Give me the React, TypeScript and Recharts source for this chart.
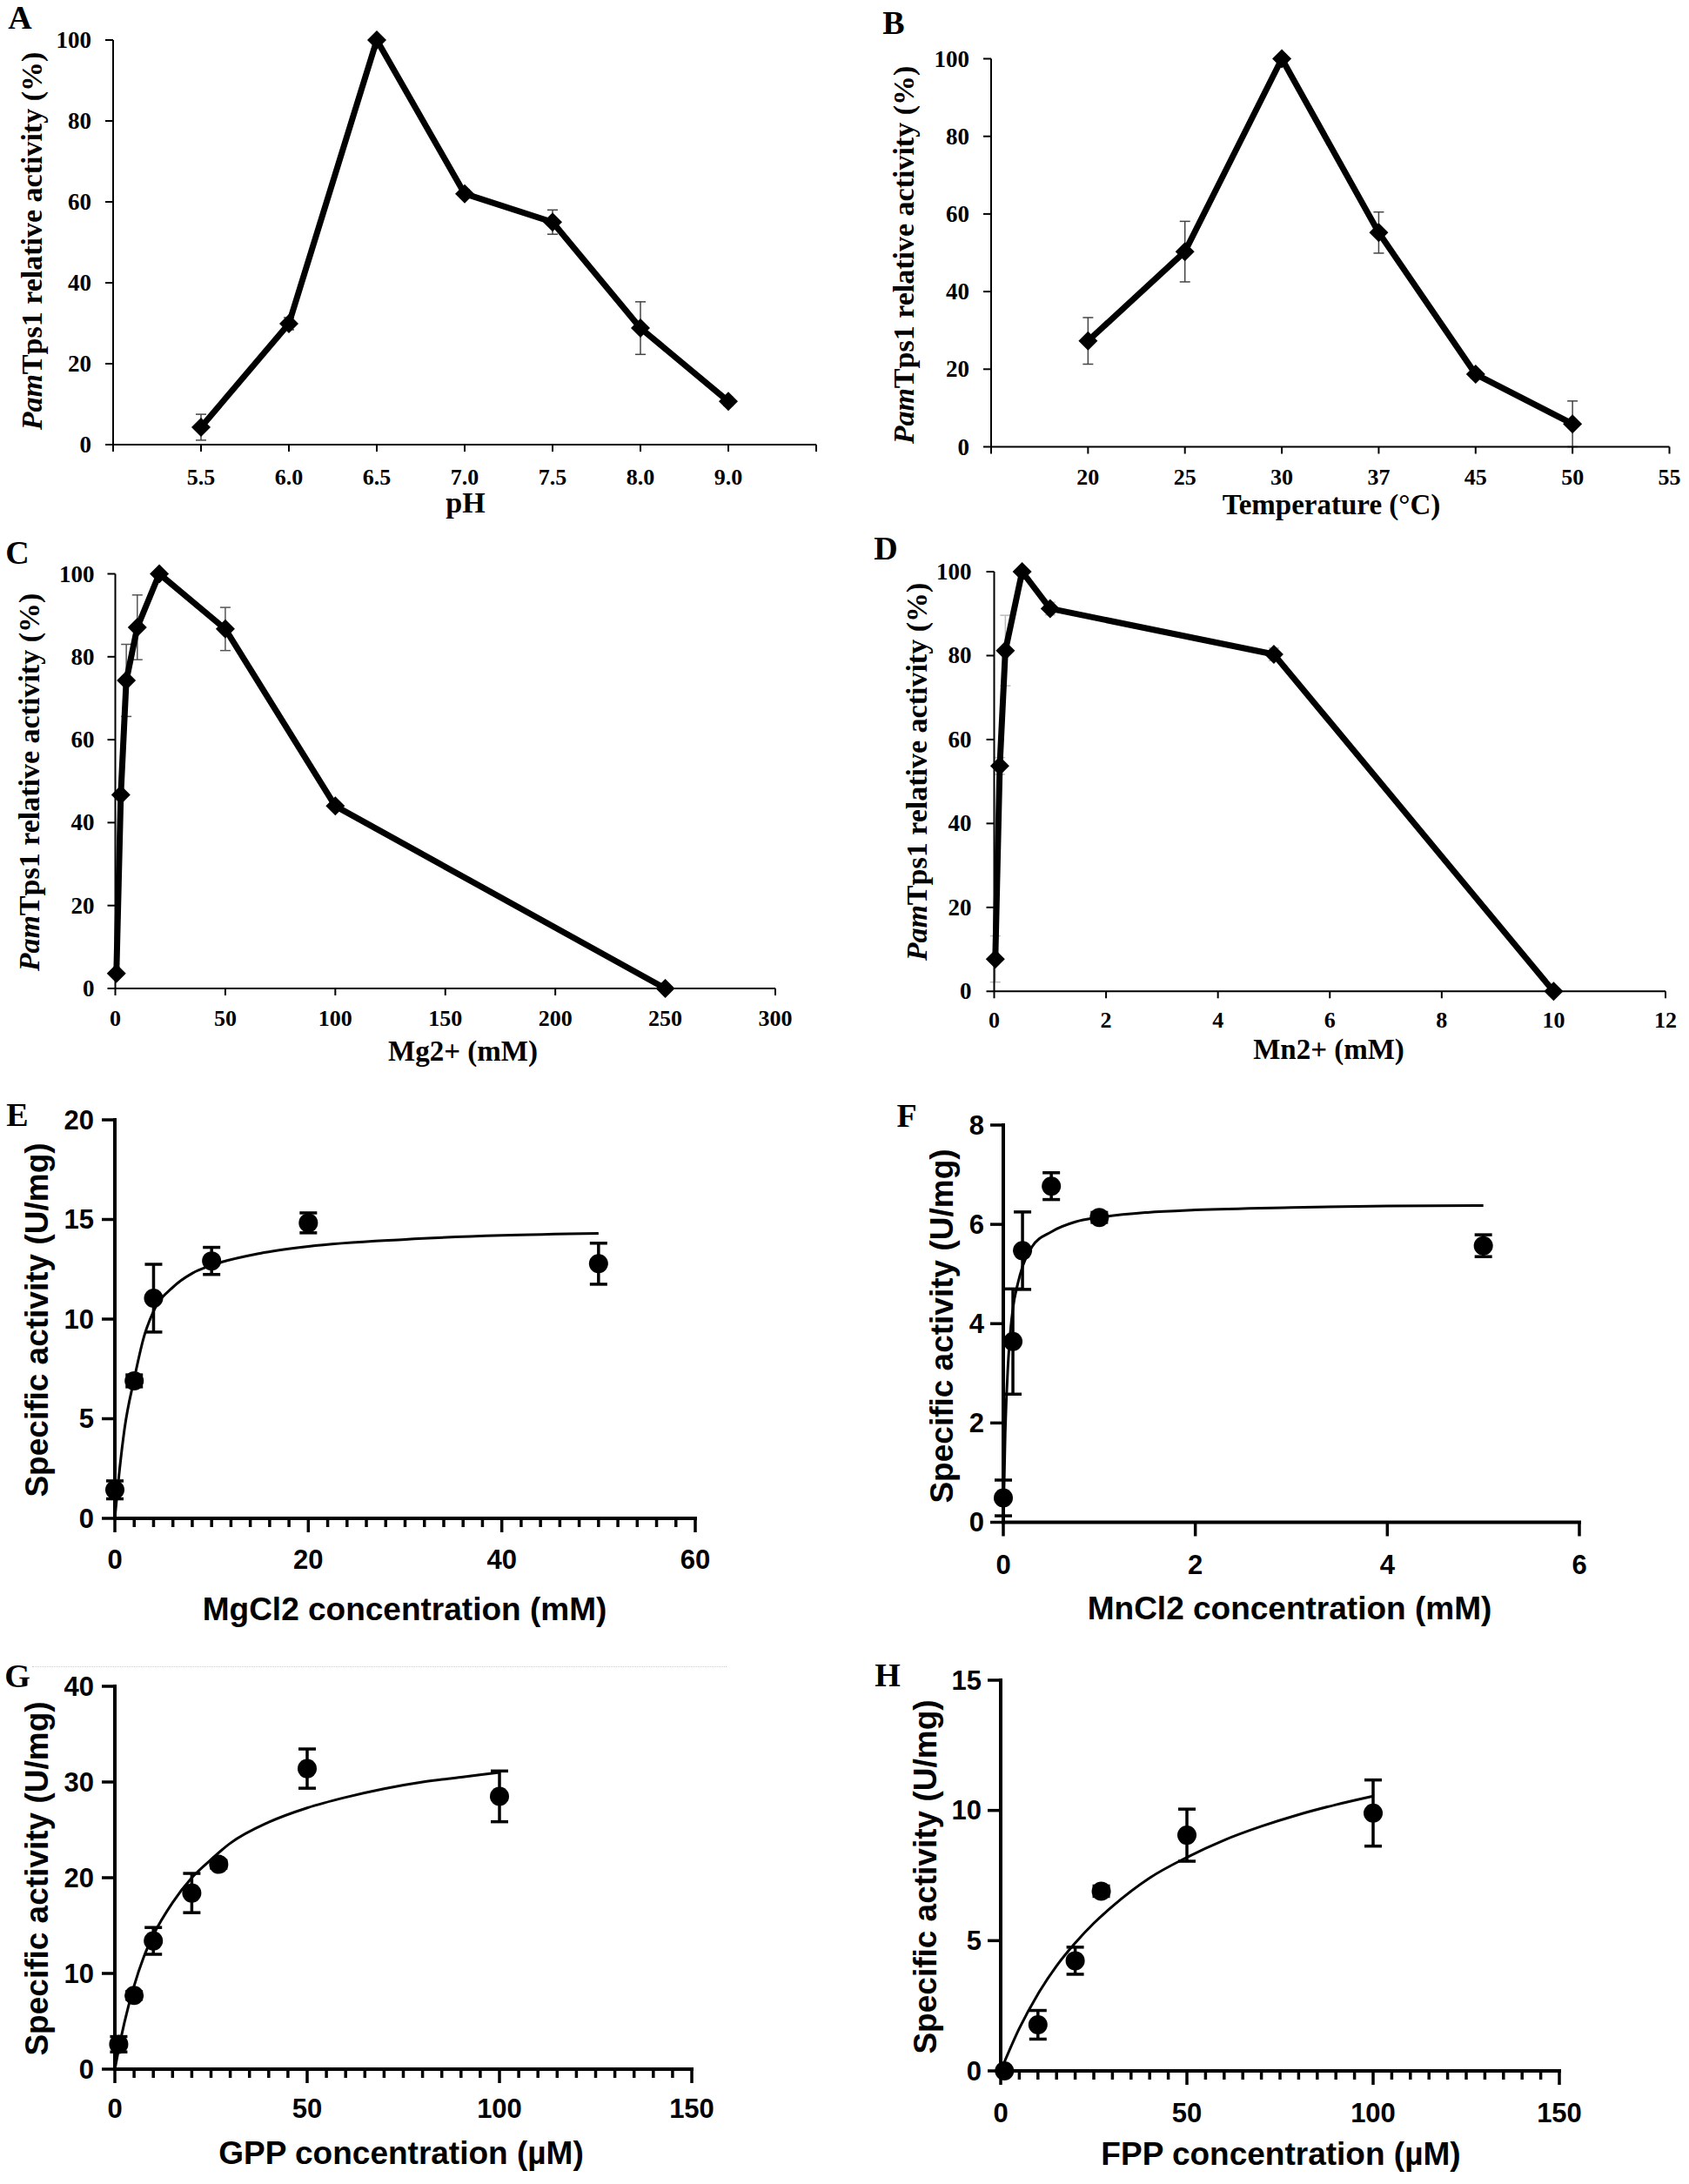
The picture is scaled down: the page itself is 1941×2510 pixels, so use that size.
import React from 'react';
import { ComposedChart, Line, Scatter, XAxis, YAxis, ErrorBar } from 'recharts';

// A: pH
const phLabels = ['5.5', '6.0', '6.5', '7.0', '7.5', '8.0', '9.0'];
const phActivity = [4.3, 29.9, 100, 62, 55, 28.8, 10.7];
const phError = [3.2, 1.5, 0, 1, 3, 6.5, 1];

// B: temperature (55 is an empty category)
const tempLabels = ['20', '25', '30', '37', '45', '50', '55'];
const tempActivity = [27.3, 50.3, 100, 55.2, 18.7, 5.9];
const tempError = [6, 7.8, 0, 5.3, 1, 5.9];

// C: Mg2+
const mgConc = [0.5, 2.5, 5, 10, 20, 50, 100, 250];
const mgActivity = [3.6, 46.7, 74.3, 87.1, 100, 86.7, 44, 0];
const mgError = [0, 0, 8.7, 7.8, 0, 5.2, 0, 0];

// D: Mn2+
const mnConc = [0.02, 0.1, 0.2, 0.5, 1, 5, 10];
const mnActivity = [7.7, 53.7, 81.2, 100, 91.2, 80.3, 0];
const mnError = [5.5, 2, 8.4, 0, 1.5, 1.5, 0];

// E: MgCl2
const mgcl2Conc = [0, 2, 4, 10, 20, 50];
const mgcl2Act = [1.43, 6.9, 11.05, 12.92, 14.83, 12.78];
const mgcl2Err = [0.45, 0.3, 1.7, 0.68, 0.5, 1.03];
const mgcl2FitX = [0, 0.5, 1, 2, 3, 4, 6, 8, 10, 15, 20, 30, 40, 50];
const mgcl2FitY = [0, 2.5, 4.5, 7.0, 9.1, 10.4, 11.6, 12.3, 12.7, 13.3, 13.65, 14.0, 14.2, 14.3];

// F: MnCl2
const mncl2Conc = [0, 0.1, 0.2, 0.5, 1, 5];
const mncl2Act = [0.49, 3.64, 5.47, 6.77, 6.14, 5.57];
const mncl2Err = [0.36, 1.06, 0.78, 0.27, 0.1, 0.22];
const mncl2FitX = [0, 0.02, 0.05, 0.1, 0.15, 0.2, 0.3, 0.5, 0.75, 1, 1.5, 2, 3, 4, 5];
const mncl2FitY = [0, 1.8, 3.2, 4.3, 4.8, 5.15, 5.55, 5.85, 6.05, 6.14, 6.24, 6.29, 6.34, 6.37, 6.38];

// G: GPP
const gppConc = [1, 5, 10, 20, 27, 50, 100];
const gppAct = [2.6, 7.7, 13.4, 18.4, 21.4, 31.4, 28.5];
const gppErr = [0.8, 0.4, 1.4, 2.05, 0.4, 2.05, 2.65];
const gppFitX = [0, 1, 2.5, 5, 7.5, 10, 15, 20, 25, 30, 40, 50, 60, 70, 80, 90, 100];
const gppFitY = [0, 2.1, 4.9, 8.7, 11.7, 14.0, 17.4, 20.0, 21.9, 23.6, 25.8, 27.3, 28.4, 29.3, 30.0, 30.5, 31.0];

// H: FPP
const fppConc = [1, 10, 20, 27, 50, 100];
const fppAct = [0, 1.77, 4.23, 6.9, 9.05, 9.9];
const fppErr = [0, 0.55, 0.52, 0.2, 1.0, 1.27];
const fppFitX = [0, 5, 10, 15, 20, 25, 30, 40, 50, 60, 70, 80, 90, 100];
const fppFitY = [0, 1.63, 2.95, 4.03, 4.91, 5.67, 6.32, 7.41, 8.2, 8.86, 9.39, 9.84, 10.22, 10.55];

// axis ticks
const pctTicks = [0, 20, 40, 60, 80, 100];
const mgTicks = [0, 50, 100, 150, 200, 250, 300];
const mnTicks = [0, 2, 4, 6, 8, 10, 12];
const eXTicks = [0, 20, 40, 60];
const eYTicks = [0, 5, 10, 15, 20];
const fXTicks = [0, 2, 4, 6];
const fYTicks = [0, 2, 4, 6, 8];
const ghXTicks = [0, 50, 100, 150];
const gYTicks = [0, 10, 20, 30, 40];
const hYTicks = [0, 5, 10, 15];

const SERIF = '"Liberation Serif", "Times New Roman", serif';
const SANS = '"Liberation Sans", Arial, sans-serif';

const range = (end: number, step: number) =>
  Array.from({ length: Math.round(end / step) + 1 }, (_, i) => i * step);

const points = (xs: number[], ys: number[], errs?: number[]) =>
  ys.map((y, i) => ({ x: xs[i], y, err: errs ? errs[i] : 0 }));

type TickStyle = {
  len: number;
  minorLen?: number;
  lw: number;
  gap: number;
  font: string;
  size: number;
  majors?: number[];
  fmt?: (v: number) => string;
};

function makeXTick(s: TickStyle) {
  return (p: any) => {
    const v = p.payload.value;
    const major = !s.majors || s.majors.includes(v);
    const label = s.fmt ? s.fmt(v) : String(v);
    return (
      <g key={`xt-${p.index}`}>
        <line x1={p.x} x2={p.x} y1={p.y} y2={p.y + (major ? s.len : s.minorLen ?? 0)} stroke="#000" strokeWidth={s.lw} />
        {major && label ? (
          <text x={p.x} y={p.y + s.gap} textAnchor="middle" dominantBaseline="central"
            fontFamily={s.font} fontSize={s.size} fontWeight="bold" fill="#000">{label}</text>
        ) : null}
      </g>
    );
  };
}

function makeYTick(s: TickStyle) {
  return (p: any) => (
    <g key={`yt-${p.index}`}>
      <line x1={p.x} x2={p.x - s.len} y1={p.y} y2={p.y} stroke="#000" strokeWidth={s.lw} />
      <text x={p.x - s.gap} y={p.y} textAnchor="end" dominantBaseline="central"
        fontFamily={s.font} fontSize={s.size} fontWeight="bold" fill="#000">{String(p.payload.value)}</text>
    </g>
  );
}

const diamond = (p: any) => {
  if (p.cx == null || p.cy == null) return <g key={`d-${p.index}`} />;
  const r = 11;
  return (
    <path key={`d-${p.index}`} fill="#000"
      d={`M${p.cx},${p.cy - r}L${p.cx + r},${p.cy}L${p.cx},${p.cy + r}L${p.cx - r},${p.cy}Z`} />
  );
};

const bigDot = (p: any) => <circle cx={p.cx} cy={p.cy} r={11} fill="#000" />;

type Box = { x: number; y: number; w: number; h: number };
type Plot = { l: number; t: number; r: number; b: number };
const Y_W = 90;
const X_H = 70;

function frame(box: Box, plot: Plot) {
  return {
    margin: {
      left: plot.l - box.x - Y_W,
      top: plot.t - box.y,
      right: box.x + box.w - plot.r,
      bottom: box.y + box.h - plot.b - X_H,
    },
  };
}

type ExcelProps = {
  box: Box;
  plot: Plot;
  data: { x: number; y: number; err: number }[];
  xDomain: [number, number];
  xTicks: number[];
  xFmt?: (v: number) => string;
  gapX: number;
  gapY: number;
  errColor: string;
};

function ExcelPanel({ box, plot, data, xDomain, xTicks, xFmt, gapX, gapY, errColor }: ExcelProps) {
  const { margin } = frame(box, plot);
  return (
    <div style={{ position: 'absolute', left: box.x, top: box.y }}>
      <ComposedChart width={box.w} height={box.h} margin={margin} data={data}>
        <XAxis type="number" dataKey="x" domain={xDomain} ticks={xTicks} interval={0} height={X_H}
          tickSize={0} tickMargin={0} tickLine={false} axisLine={{ stroke: '#000', strokeWidth: 2 }}
          tick={makeXTick({ len: 8, lw: 2, gap: gapX, font: SERIF, size: 26, fmt: xFmt })} />
        <YAxis type="number" domain={[0, 100]} ticks={pctTicks} interval={0} width={Y_W}
          tickSize={0} tickMargin={0} tickLine={false} axisLine={{ stroke: '#000', strokeWidth: 2 }}
          tick={makeYTick({ len: 9, lw: 2, gap: gapY, font: SERIF, size: 27 })} />
        <Line dataKey="y" type="linear" stroke="#000" strokeWidth={7} strokeLinejoin="round"
          dot={diamond} activeDot={false} isAnimationActive={false}>
          <ErrorBar dataKey="err" direction="y" width={6} stroke={errColor} strokeWidth={1.5} />
        </Line>
      </ComposedChart>
    </div>
  );
}

type PrismProps = {
  box: Box;
  plot: Plot;
  data: { x: number; y: number; err: number }[];
  fit: { x: number; y: number; err: number }[];
  xDomain: [number, number];
  yDomain: [number, number];
  xTicks: number[];
  xMajors: number[];
  yTicks: number[];
  gapX: number;
  gapY: number;
};

function PrismPanel({ box, plot, data, fit, xDomain, yDomain, xTicks, xMajors, yTicks, gapX, gapY }: PrismProps) {
  const { margin } = frame(box, plot);
  const axis = { stroke: '#000', strokeWidth: 4, strokeLinecap: 'square' as const };
  return (
    <div style={{ position: 'absolute', left: box.x, top: box.y }}>
      <ComposedChart width={box.w} height={box.h} margin={margin}>
        <XAxis type="number" dataKey="x" domain={xDomain} ticks={xTicks} interval={0} height={X_H}
          tickSize={0} tickMargin={0} tickLine={false} axisLine={axis}
          tick={makeXTick({ len: 16, minorLen: 10, lw: 3.5, gap: gapX, font: SANS, size: 31, majors: xMajors })} />
        <YAxis type="number" domain={yDomain} ticks={yTicks} interval={0} width={Y_W}
          tickSize={0} tickMargin={0} tickLine={false} axisLine={axis}
          tick={makeYTick({ len: 15, lw: 3.5, gap: gapY, font: SANS, size: 31 })} />
        <Line data={fit} dataKey="y" type="monotone" stroke="#000" strokeWidth={3} dot={false}
          activeDot={false} isAnimationActive={false} />
        <Scatter data={data} dataKey="y" shape={bigDot} isAnimationActive={false}>
          <ErrorBar dataKey="err" direction="y" width={10} stroke="#000" strokeWidth={3.5} />
        </Scatter>
      </ComposedChart>
    </div>
  );
}

function Letter({ x, y, t }: { x: number; y: number; t: string }) {
  return (
    <div style={{ position: 'absolute', left: x, top: y, transform: 'translate(-50%,-50%)', fontFamily: SERIF, fontWeight: 'bold', fontSize: 38, lineHeight: 1 }}>{t}</div>
  );
}

function HTitle({ x, y, font, size, children }: { x: number; y: number; font: string; size: number; children: React.ReactNode }) {
  return (
    <div style={{ position: 'absolute', left: x, top: y, transform: 'translate(-50%,-50%)', whiteSpace: 'nowrap', fontFamily: font, fontWeight: 'bold', fontSize: size, lineHeight: 1 }}>{children}</div>
  );
}

function VTitle({ x, y, font, size, children }: { x: number; y: number; font: string; size: number; children: React.ReactNode }) {
  return (
    <div style={{ position: 'absolute', left: x, top: y, transform: 'translate(-50%,-50%) rotate(-90deg)', whiteSpace: 'nowrap', fontFamily: font, fontWeight: 'bold', fontSize: size, lineHeight: 1 }}>{children}</div>
  );
}

const pamTitle = (
  <>
    <i>Pam</i>Tps1 relative activity (%)
  </>
);

export default function App() {
  const phData = phActivity.map((y, i) => ({ x: i + 1, y, err: phError[i] }));
  const tempData = tempActivity.map((y, i) => ({ x: i + 1, y, err: tempError[i] }));

  return (
    <div style={{ position: 'absolute', left: 0, top: 0, width: 1941, height: 2510, background: '#fff', overflow: 'hidden' }}>
      <ExcelPanel box={{ x: 0, y: 0, w: 970, h: 620 }} plot={{ l: 130, t: 46, r: 938, b: 511 }}
        data={phData} xDomain={[0, 8]} xTicks={range(8, 1)} xFmt={(v) => phLabels[v - 1] ?? ''}
        gapX={37} gapY={25} errColor="#444" />
      <ExcelPanel box={{ x: 970, y: 0, w: 971, h: 620 }} plot={{ l: 1139, t: 67.5, r: 1918.5, b: 513.5 }}
        data={tempData} xDomain={[0, 7]} xTicks={range(7, 1)} xFmt={(v) => tempLabels[v - 1] ?? ''}
        gapX={35} gapY={25} errColor="#444" />
      <ExcelPanel box={{ x: 0, y: 620, w: 970, h: 620 }} plot={{ l: 132.5, t: 659.5, r: 891, b: 1136 }}
        data={points(mgConc, mgActivity, mgError)} xDomain={[0, 300]} xTicks={mgTicks}
        gapX={34} gapY={24} errColor="#555" />
      <ExcelPanel box={{ x: 970, y: 620, w: 971, h: 620 }} plot={{ l: 1142.5, t: 657, r: 1914, b: 1139.3 }}
        data={points(mnConc, mnActivity, mnError)} xDomain={[0, 12]} xTicks={mnTicks}
        gapX={33} gapY={26} errColor="#bbb" />

      <PrismPanel box={{ x: 0, y: 1240, w: 970, h: 640 }} plot={{ l: 132, t: 1287, r: 799, b: 1745 }}
        data={points(mgcl2Conc, mgcl2Act, mgcl2Err)} fit={points(mgcl2FitX, mgcl2FitY)}
        xDomain={[0, 60]} yDomain={[0, 20]} xTicks={range(60, 2)} xMajors={eXTicks} yTicks={eYTicks}
        gapX={47} gapY={24} />
      <PrismPanel box={{ x: 970, y: 1240, w: 971, h: 640 }} plot={{ l: 1153, t: 1293, r: 1815, b: 1749.5 }}
        data={points(mncl2Conc, mncl2Act, mncl2Err)} fit={points(mncl2FitX, mncl2FitY)}
        xDomain={[0, 6]} yDomain={[0, 8]} xTicks={fXTicks} xMajors={fXTicks} yTicks={fYTicks}
        gapX={48.5} gapY={22} />
      <PrismPanel box={{ x: 0, y: 1880, w: 970, h: 630 }} plot={{ l: 132, t: 1938, r: 795, b: 2378 }}
        data={points(gppConc, gppAct, gppErr)} fit={points(gppFitX, gppFitY)}
        xDomain={[0, 150]} yDomain={[0, 40]} xTicks={range(150, 5)} xMajors={ghXTicks} yTicks={gYTicks}
        gapX={45} gapY={24} />
      <PrismPanel box={{ x: 970, y: 1880, w: 971, h: 630 }} plot={{ l: 1150, t: 1931, r: 1792, b: 2380 }}
        data={points(fppConc, fppAct, fppErr)} fit={points(fppFitX, fppFitY)}
        xDomain={[0, 150]} yDomain={[0, 15]} xTicks={range(150, 5)} xMajors={ghXTicks} yTicks={hYTicks}
        gapX={48} gapY={22} />

      <div style={{ position: 'absolute', left: 37, top: 1915, width: 798, borderTop: '1px dotted #ccc' }} />

      <Letter x={23} y={20} t="A" />
      <Letter x={1027} y={26} t="B" />
      <Letter x={20} y={635} t="C" />
      <Letter x={1018} y={630} t="D" />
      <Letter x={20} y={1281} t="E" />
      <Letter x={1042} y={1282} t="F" />
      <Letter x={20} y={1926} t="G" />
      <Letter x={1020} y={1925} t="H" />

      <VTitle x={37} y={277} font={SERIF} size={34}>{pamTitle}</VTitle>
      <VTitle x={1039} y={293} font={SERIF} size={34}>{pamTitle}</VTitle>
      <VTitle x={34} y={899} font={SERIF} size={34}>{pamTitle}</VTitle>
      <VTitle x={1054} y={887} font={SERIF} size={34}>{pamTitle}</VTitle>
      <VTitle x={41.5} y={1517} font={SANS} size={37}>Specific activity (U/mg)</VTitle>
      <VTitle x={1081.5} y={1524} font={SANS} size={37}>Specific activity (U/mg)</VTitle>
      <VTitle x={41.5} y={2159} font={SANS} size={37}>Specific activity (U/mg)</VTitle>
      <VTitle x={1063} y={2157} font={SANS} size={37}>Specific activity (U/mg)</VTitle>

      <HTitle x={535} y={578} font={SERIF} size={34}>pH</HTitle>
      <HTitle x={1530} y={580} font={SERIF} size={33}>Temperature (°C)</HTitle>
      <HTitle x={532} y={1208} font={SERIF} size={33}>Mg2+ (mM)</HTitle>
      <HTitle x={1527} y={1206} font={SERIF} size={33}>Mn2+ (mM)</HTitle>
      <HTitle x={465} y={1849} font={SANS} size={37}>MgCl2 concentration (mM)</HTitle>
      <HTitle x={1482} y={1848} font={SANS} size={37}>MnCl2 concentration (mM)</HTitle>
      <HTitle x={461} y={2474} font={SANS} size={37}>GPP concentration (µM)</HTitle>
      <HTitle x={1472} y={2475} font={SANS} size={37}>FPP concentration (µM)</HTitle>
    </div>
  );
}
